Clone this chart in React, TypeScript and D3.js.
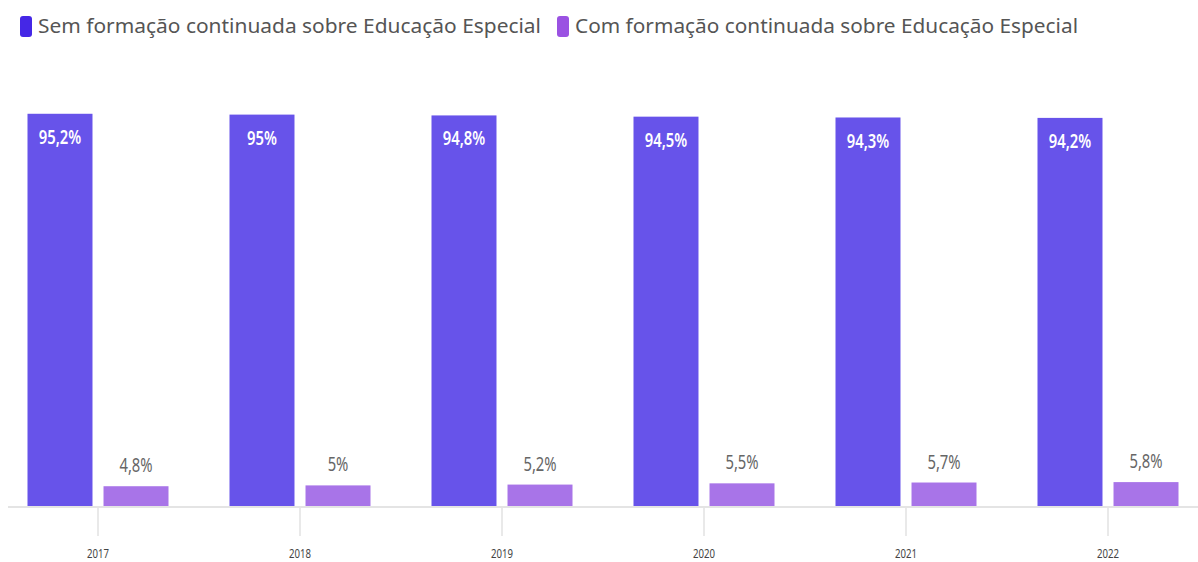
import { useEffect, useRef } from "react";
import * as d3 from "d3";

const years = ["2017", "2018", "2019", "2020", "2021", "2022"];
const semFormacao = [95.2, 95, 94.8, 94.5, 94.3, 94.2];
const comFormacao = [4.8, 5, 5.2, 5.5, 5.7, 5.8];
const seriesNames = [
  "Sem formação continuada sobre Educação Especial",
  "Com formação continuada sobre Educação Especial",
];
const barColors = ["#6753ea", "#a874e8"];
const legendColors = ["#4527e6", "#9a52e2"];

const fmt = (v: number) => `${String(v).replace(".", ",")}%`;

const W = 1198;
const H = 562;
const labelFont = "'Noto Sans', 'DejaVu Sans', sans-serif";

const App = () => {
  const svgRef = useRef<SVGSVGElement | null>(null);

  useEffect(() => {
    if (!svgRef.current) return;
    const svg = d3.select(svgRef.current);
    svg.selectAll("*").remove();

    const baseline = 506;

    const x = d3.scalePoint<string>().domain(years).range([98, 1108]);
    const xSub = d3
      .scaleBand<number>()
      .domain([0, 1])
      .range([-70.5, 70.5])
      .paddingInner(0.145);

    const y = d3.scaleLinear().domain([0, 100]).range([baseline, 94]);

    // legend
    const legend = svg.append("g").attr("font-family", "'Noto Sans', sans-serif");
    let lx = 20;
    seriesNames.forEach((name, i) => {
      legend
        .append("rect")
        .attr("x", lx)
        .attr("y", 16)
        .attr("width", 12)
        .attr("height", 21)
        .attr("rx", 3)
        .attr("fill", legendColors[i]);
      legend
        .append("text")
        .attr("x", lx + 18)
        .attr("y", 26)
        .attr("dy", "0.35em")
        .attr("font-size", 19)
        .attr("textLength", 503)
        .attr("lengthAdjust", "spacingAndGlyphs")
        .attr("fill", "#555")
        .text(name);
      lx += 18 + 503 + 16;
    });

    // axis line
    svg
      .append("line")
      .attr("x1", 8)
      .attr("x2", W)
      .attr("y1", baseline + 1)
      .attr("y2", baseline + 1)
      .attr("stroke", "#e4e4e4")
      .attr("stroke-width", 2);

    // ticks + year labels
    const axis = svg.append("g");
    axis
      .selectAll("line")
      .data(years)
      .join("line")
      .attr("x1", (d) => x(d)!)
      .attr("x2", (d) => x(d)!)
      .attr("y1", baseline + 2)
      .attr("y2", 536)
      .attr("stroke", "#e2e2e2")
      .attr("stroke-width", 1.5);
    axis
      .selectAll("text")
      .data(years)
      .join("text")
      .attr("transform", (d) => `translate(${x(d)},553) scale(0.74,1)`)
      .attr("dy", "0.35em")
      .attr("text-anchor", "middle")
      .attr("font-family", labelFont)
      .attr("font-size", 13)
      .attr("fill", "#444")
      .text((d) => d);

    const series = [semFormacao, comFormacao];
    series.forEach((vals, si) => {
      const g = svg.append("g");
      g.selectAll("rect")
        .data(vals)
        .join("rect")
        .attr("x", (_, i) => x(years[i])! + xSub(si)!)
        .attr("width", xSub.bandwidth())
        .attr("y", (d) => y(d))
        .attr("height", (d) => baseline - y(d))
        .attr("fill", barColors[si]);

      g.selectAll("text")
        .data(vals)
        .join("text")
        .attr("transform", (d, i) => {
          const cx = x(years[i])! + xSub(si)! + xSub.bandwidth() / 2;
          const cy = si === 0 ? y(d) + 23 : y(d) - 21;
          return `translate(${cx},${cy}) scale(0.74,1)`;
        })
        .attr("dy", "0.35em")
        .attr("text-anchor", "middle")
        .attr("font-family", labelFont)
        .attr("font-size", 20)
        .attr("font-weight", si === 0 ? 600 : "normal")
        .attr("fill", si === 0 ? "#ffffff" : "#666")
        .text((d) => fmt(d));
    });
  }, []);

  return (
    <svg
      ref={svgRef}
      width={W}
      height={H}
      style={{ position: "absolute", left: 0, top: 0, background: "#fff" }}
    />
  );
};

export default App;
